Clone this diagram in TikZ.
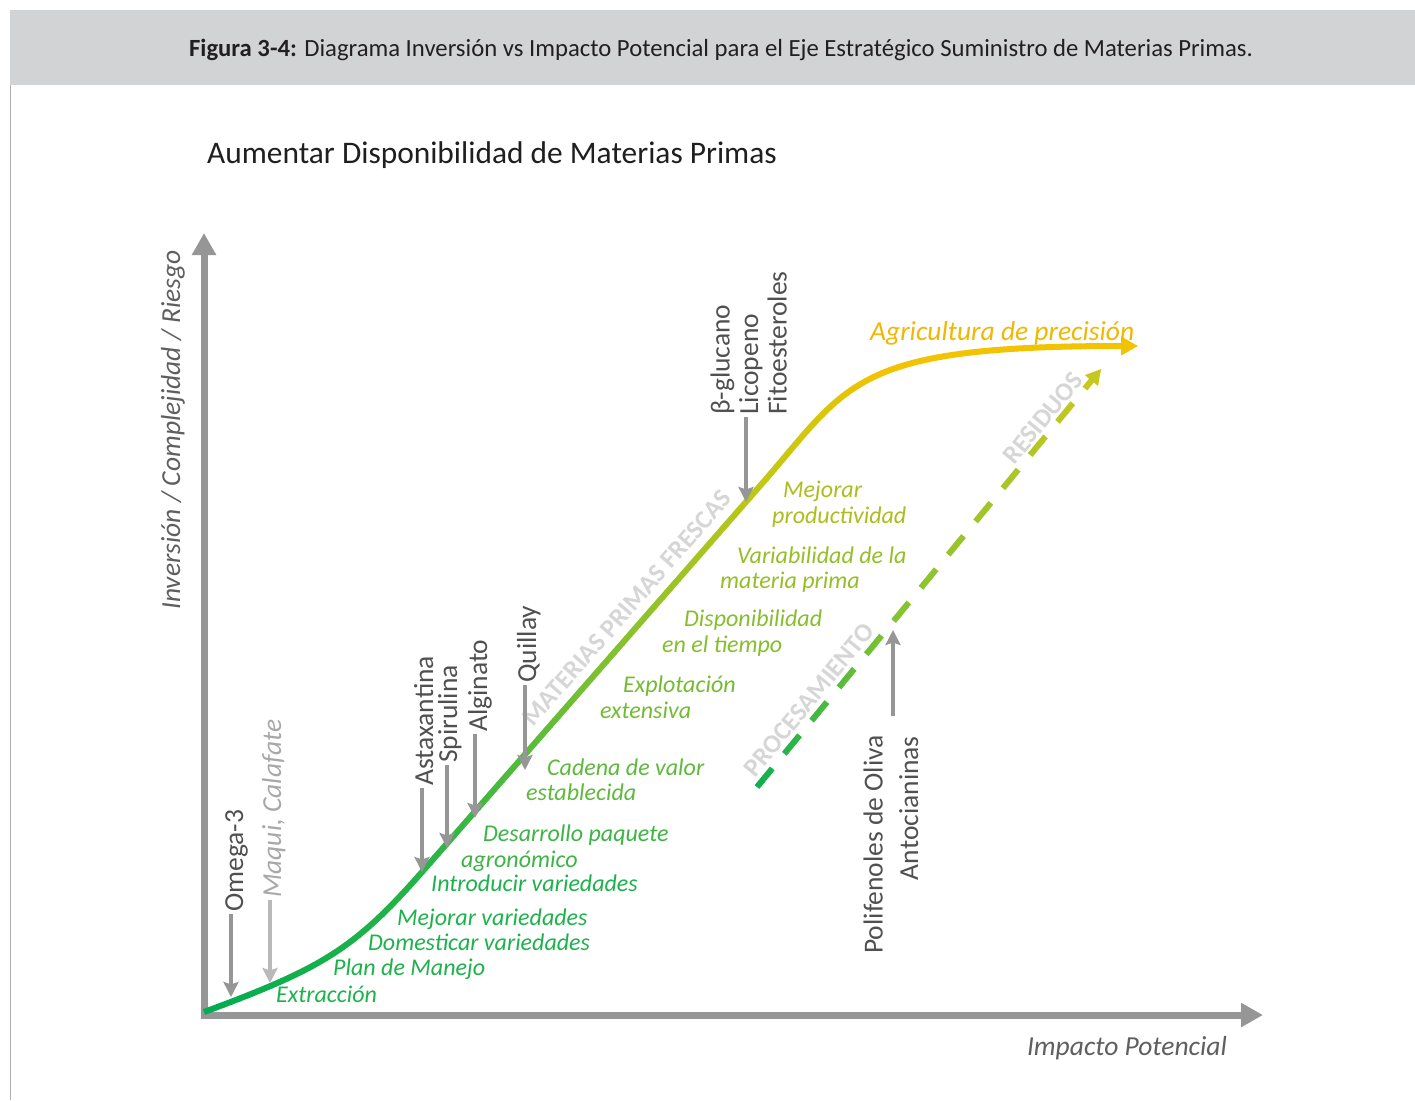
\documentclass[tikz,border=0pt]{standalone}
\usepackage{fontspec}
\setmainfont{Carlito}
\usetikzlibrary{arrows.meta}
\definecolor{headgray}{RGB}{209,211,212}
\definecolor{headtext}{RGB}{35,31,32}
\definecolor{bordgray}{RGB}{175,175,175}
\definecolor{axgray}{RGB}{150,150,150}
\definecolor{arrgray}{RGB}{150,150,150}
\definecolor{lightarr}{RGB}{185,185,185}
\definecolor{labgray}{RGB}{80,80,80}
\definecolor{maqgray}{RGB}{168,168,168}
\definecolor{wmgray}{RGB}{214,214,214}
\definecolor{ylabgray}{RGB}{95,95,95}
\definecolor{m1}{RGB}{0,173,80}
\definecolor{m2}{RGB}{40,180,72}
\definecolor{m3}{RGB}{125,192,50}
\definecolor{m4}{RGB}{195,200,20}
\definecolor{m5}{RGB}{242,195,0}
\definecolor{d1}{RGB}{15,175,80}
\definecolor{d2}{RGB}{130,195,50}
\definecolor{d3}{RGB}{200,200,30}
\definecolor{g1}{RGB}{30,178,76}
\definecolor{g2}{RGB}{60,180,70}
\definecolor{g3}{RGB}{95,185,60}
\definecolor{g4}{RGB}{115,188,50}
\definecolor{g5}{RGB}{135,190,45}
\definecolor{g6}{RGB}{150,190,40}
\definecolor{g7}{RGB}{172,190,30}
\definecolor{g8}{RGB}{242,183,0}
\newcommand\gradmain[1]{%
  \pgfmathsetmacro\gradX{#1}%
  \ifdim\gradX pt<430pt
    \pgfmathsetmacro\gradP{max(0,min(100,(\gradX-204)/226*100))}\colorlet{gradc}{m2!\gradP!m1}%
  \else\ifdim\gradX pt<600pt
    \pgfmathsetmacro\gradP{(\gradX-430)/170*100}\colorlet{gradc}{m3!\gradP!m2}%
  \else\ifdim\gradX pt<770pt
    \pgfmathsetmacro\gradP{(\gradX-600)/170*100}\colorlet{gradc}{m4!\gradP!m3}%
  \else\ifdim\gradX pt<880pt
    \pgfmathsetmacro\gradP{(\gradX-770)/110*100}\colorlet{gradc}{m5!\gradP!m4}%
  \else
    \colorlet{gradc}{m5}%
  \fi\fi\fi\fi}
\newcommand\graddash[1]{%
  \pgfmathsetmacro\gradX{#1}%
  \ifdim\gradX pt<890pt
    \pgfmathsetmacro\gradP{max(0,(\gradX-757)/133*100)}\colorlet{gradc}{d2!\gradP!d1}%
  \else
    \pgfmathsetmacro\gradP{min(100,(\gradX-890)/210*100)}\colorlet{gradc}{d3!\gradP!d2}%
  \fi}
\begin{document}
\begin{tikzpicture}[x=1pt,y=-1pt,
  glab/.style={inner sep=0pt, anchor=base west, font=\fontsize{24}{28}\selectfont\itshape},
  vlab/.style={inner sep=0pt, anchor=base west, rotate=90, text=labgray, font=\fontsize{27.5}{30}\selectfont},
  garrow/.style={draw=arrgray, line width=4pt, shorten <=2pt, -{Stealth[length=15pt,width=15pt,inset=2.5pt]}},
  axisline/.style={draw=axgray, line width=7pt, line join=miter, {Triangle[length=22pt,width=23pt]}-{Triangle[length=22pt,width=23pt]}},
  mainline/.style={line width=6pt, -{Triangle[length=17pt,width=18pt]}},
  dashline/.style={line width=6pt, dash pattern=on 24pt off 19pt, -{Triangle[length=15pt,width=16pt]}},
  wm/.style={inner sep=0pt, text=wmgray, font=\fontsize{26}{28}\selectfont\bfseries}]
\useasboundingbox (0,0) rectangle (1415,1100);
\fill[white] (0,0) rectangle (1415,1100);
% header
\fill[headgray] (10,10) rectangle (1415,85);
\draw[bordgray, line width=1.5pt] (10.5,85) -- (10.5,1100);
\node[inner sep=0pt, anchor=base, text=headtext, font=\fontsize{24.7}{28}\selectfont] (hdr) at (721,56)
  {\textbf{Figura 3-4:} Diagrama Inversión vs Impacto Potencial para el Eje Estratégico Suministro de Materias Primas.};
\node[inner sep=0pt, anchor=base west, text=black!88, font=\fontsize{31.4}{36}\selectfont] (ttl) at (207,163)
  {Aumentar Disponibilidad de Materias Primas};
% axes
\coordinate (ytop) at (204,233);
\coordinate (orig) at (204,1015);
\coordinate (xend) at (1263,1015);
\draw[axisline] (ytop) -- (orig) -- (xend);
\node[inner sep=0pt, anchor=base west, rotate=90, text=ylabgray, font=\fontsize{27.5}{30}\selectfont\itshape] (ylab) at (180,610)
  {Inversión / Complejidad / Riesgo};
\node[inner sep=0pt, anchor=base east, text=ylabgray, font=\fontsize{27.5}{30}\selectfont\itshape] (xlab) at (1227,1055)
  {Impacto Potencial};
% watermark texts
\node[wm, rotate=48.8] (mpf) at (627,608) {MATERIAS PRIMAS FRESCAS};
\node[wm, rotate=50.6] (proc) at (809,700) {PROCESAMIENTO};
\node[wm, rotate=50.6] (res) at (1043,418) {RESIDUOS};
% main curve (gradient by vertical strips)
\coordinate (c0) at (204,1012);
\coordinate (c2) at (425,868.6);
\coordinate (c3) at (760,485.9);
\coordinate (c4) at (1138,346);
\foreach \i in {0,...,118}{%
  \pgfmathsetmacro\xa{200+8*\i}%
  \gradmain{\xa+4}%
  \begin{scope}
    \clip (\xa,0) rectangle ++(8.7,1100);
    \draw[mainline, draw=gradc] (c0) .. controls (324,967.6) and (355,948.6) .. (c2) -- (c3)
      .. controls (850,383.2) and (850,346) .. (c4);
  \end{scope}
}
% dashed line
\coordinate (d0) at (757,787);
\coordinate (dtip) at (1101,369);
\foreach \i in {0,...,46}{%
  \pgfmathsetmacro\xa{748+8*\i}%
  \graddash{\xa+4}%
  \begin{scope}
    \clip (\xa,0) rectangle ++(8.7,1100);
    \draw[dashline, draw=gradc] (d0) -- (dtip);
  \end{scope}
}
% green labels
\node[glab, text=g1] (l1) at (276,1002) {Extracción};
\node[glab, text=g1] (l2) at (333,975) {Plan de Manejo};
\node[glab, text=g1] (l3) at (368,950) {Domesticar variedades};
\node[glab, text=g1] (l4) at (397,925) {Mejorar variedades};
\node[glab, text=g1] (l5) at (431,891) {Introducir variedades};
\node[glab, text=g2] (l6a) at (483,841) {Desarrollo paquete};
\node[glab, text=g2] (l6b) at (461,867) {agronómico};
\node[glab, text=g3] (l7a) at (547,775) {Cadena de valor};
\node[glab, text=g3] (l7b) at (526,800) {establecida};
\node[glab, text=g4] (l8a) at (623,692) {Explotación};
\node[glab, text=g4] (l8b) at (600,718) {extensiva};
\node[glab, text=g5] (l9a) at (684,626) {Disponibilidad};
\node[glab, text=g5] (l9b) at (662,652) {en el tiempo};
\node[glab, text=g6] (l10a) at (737,563) {Variabilidad de la};
\node[glab, text=g6] (l10b) at (720,588) {materia prima};
\node[glab, text=g7] (l11a) at (783,497) {Mejorar};
\node[glab, text=g7] (l11b) at (772,523) {productividad};
\node[glab, text=g8, font=\fontsize{27.5}{30}\selectfont\itshape] (l12) at (870,340) {Agricultura de precisión};
% gray labels with arrows
\node[vlab] (om) at (243,912) {Omega-3};
\coordinate (omT) at (231,997);
\draw[garrow] (om.base west -| omT) -- (omT);
\node[vlab, text=maqgray, font=\fontsize{27.5}{30}\selectfont\itshape] (maq) at (281,898) {Maqui, Calafate};
\coordinate (maqT) at (270,983);
\draw[garrow, draw=lightarr] (maq.base west -| maqT) -- (maqT);
\node[vlab] (ast) at (433,786) {Astaxantina};
\coordinate (astT) at (422,872);
\draw[garrow] (ast.base west -| astT) -- (astT);
\node[vlab] (spi) at (457,763) {Spirulina};
\coordinate (spiT) at (447,848);
\draw[garrow] (spi.base west -| spiT) -- (spiT);
\node[vlab] (alg) at (487,732) {Alginato};
\coordinate (algT) at (475,818);
\draw[garrow] (alg.base west -| algT) -- (algT);
\node[vlab] (qui) at (536,683) {Quillay};
\coordinate (quiT) at (525,770);
\draw[garrow] (qui.base west -| quiT) -- (quiT);
\node[vlab] (bg) at (729.5,415) {β-glucano};
\node[vlab] (lic) at (758,415) {Licopeno};
\node[vlab] (fit) at (786.5,415) {Fitoesteroles};
\coordinate (licT) at (746,502);
\draw[garrow] (lic.base west -| licT) -- (licT);
\node[vlab, anchor=base east] (pol) at (882.7,735) {Polifenoles de Oliva};
\node[vlab, anchor=base east] (ant) at (918,736) {Antocianinas};
\coordinate (polT) at (893,630);
\draw[garrow, shorten <=19pt] (pol.base east -| polT) -- (polT);
\end{tikzpicture}
\end{document}
